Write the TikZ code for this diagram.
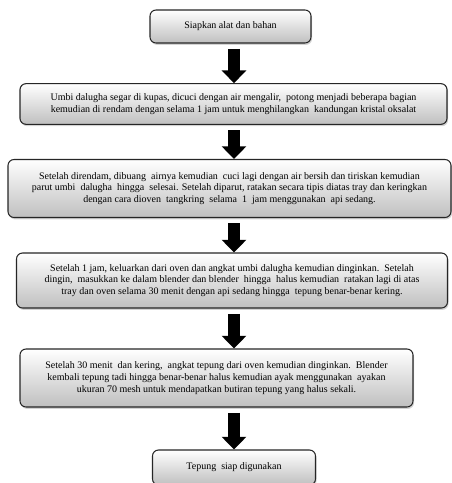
\documentclass[tikz,border=0pt]{standalone}
\usepackage{fontspec}
\setmainfont{Liberation Serif}
\usetikzlibrary{arrows.meta, shadows, math}

\tikzset{
  langkah/.style={draw=black!85, line width=0.8pt, rounded corners=4.5pt,
    top color=white, bottom color=black!25, align=center, inner sep=0pt,
    font=\fontsize{7.5}{8.8}\selectfont,
    drop shadow={opacity=0.35, shadow xshift=0.8pt, shadow yshift=-1.4pt}},
  panah/.style={line width=9pt, draw=black,
    -{Triangle[length=9.5pt, width=18pt]}, shorten <=4pt},
}

\begin{document}
\begin{tikzpicture}[x=0.75pt, y=-0.75pt]
\tikzmath{
\ax=234;
}
\useasboundingbox (0,0) rectangle (452,483);
\coordinate (ax) at (\ax,0);

\node[langkah, minimum width=120.75pt, minimum height=24.75pt] (b1) at (230.5,26.5)
  {Siapkan alat dan bahan};
\node[langkah, minimum width=320.25pt, minimum height=30.5pt] (b2) at (233.5,104)
  {Umbi dalugha segar di kupas, dicuci dengan air mengalir,\ \ potong menjadi beberapa bagian\\
   kemudian di rendam dengan selama 1 jam untuk menghilangkan\ \ kandungan kristal oksalat};
\node[langkah, minimum width=332.25pt, minimum height=43.5pt] (b3) at (229.5,188.5)
  {Setelah direndam, dibuang\ \ airnya kemudian\ \ cuci lagi dengan air bersih dan tiriskan kemudian\\
   parut umbi\ \ dalugha\ \ hingga\ \ selesai. Setelah diparut, ratakan secara tipis diatas tray dan keringkan\\
   dengan cara dioven\ \ tangkring\ \ selama\ \ 1\ \ jam menggunakan\ \ api sedang.};
\node[langkah, minimum width=323.25pt, minimum height=41.25pt] (b4) at (232,280.5)
  {Setelah 1 jam, keluarkan dari oven dan angkat umbi dalugha kemudian dinginkan.\ \ Setelah\\
   dingin,\ \ masukkan ke dalam blender dan blender\ \ hingga\ \ halus kemudian\ \ ratakan lagi di atas\\
   tray dan oven selama 30 menit dengan api sedang hingga\ \ tepung benar-benar kering.};
\node[langkah, minimum width=294.75pt, minimum height=43.5pt] (b5) at (216.5,378)
  {Setelah 30 menit\ \ dan kering,\ \ angkat tepung dari oven kemudian dinginkan.\ \ Blender\\
   kembali tepung tadi hingga benar-benar halus kemudian ayak menggunakan\ \ ayakan\\
   ukuran 70 mesh untuk mendapatkan butiran tepung yang halus sekali.};
\node[langkah, minimum width=122.25pt, minimum height=26.25pt] (b6) at (234,467.5)
  {Tepung\ \ siap digunakan};

\draw[panah] (b1.south -| ax) -- (b2.north -| ax);
\draw[panah] (b2.south -| ax) -- (b3.north -| ax);
\draw[panah] (b3.south -| ax) -- (b4.north -| ax);
\draw[panah] (b4.south -| ax) -- (b5.north -| ax);
\draw[panah] (b5.south -| ax) -- (b6.north -| ax);
\end{tikzpicture}
\end{document}
